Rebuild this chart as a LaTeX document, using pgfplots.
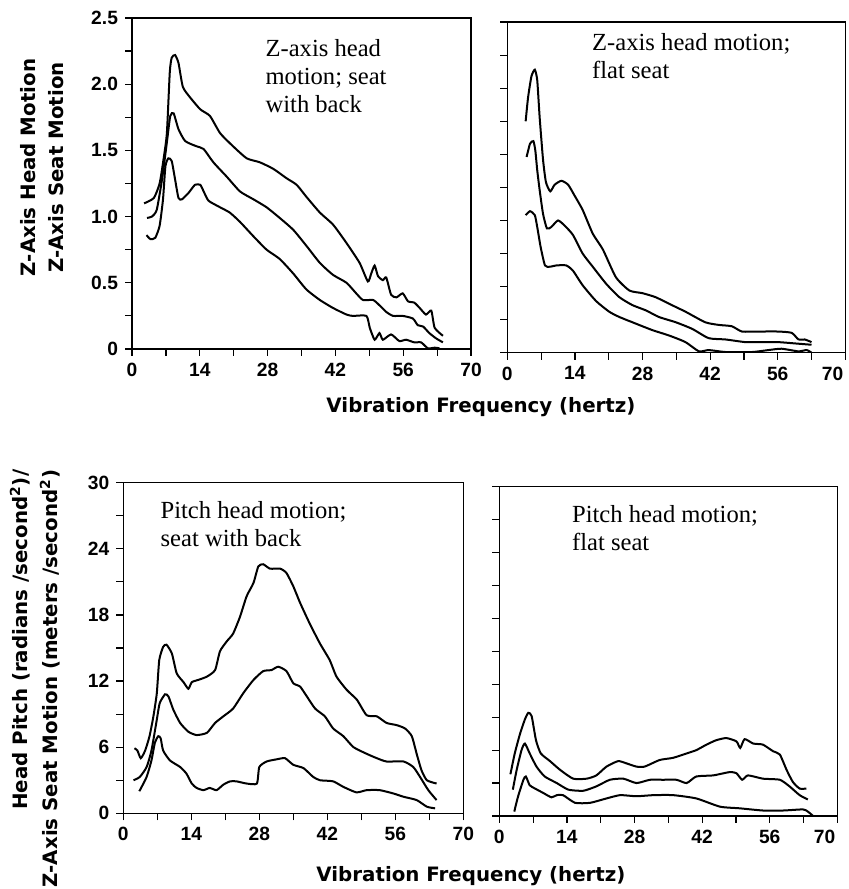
\documentclass[border=0pt]{standalone}
\usepackage{fontspec}
\setmainfont{Liberation Serif}
\newfontfamily\labfont{DejaVu Sans}
\newfontfamily\tickfont{Liberation Sans}
\usepackage{pgfplots}
\pgfplotsset{compat=1.18}
\pgfplotsset{
  panel/.style={
    scale only axis,
    anchor=south west,
    xmin=0, xmax=70,
    xtick={0,14,28,42,56,70},
    minor x tick num=1,
    tick align=outside,
    xtick pos=bottom, ytick pos=left,
    major tick length=3.5pt, minor tick length=3.5pt,
    every tick/.style={black, line width=0.6pt},
    axis line style={line width=0.6pt},
    ticklabel style={font=\tickfont\bfseries\fontsize{9.6}{11}\selectfont},
    /pgf/number format/assume math mode=true,
    clip=true,
  },
  zpanel/.style={panel, ymin=0, ymax=2.5, ytick={0,0.5,1,1.5,2,2.5}, minor y tick num=1},
  ppanel/.style={panel, ymin=0, ymax=30, ytick={0,6,12,18,24,30}, minor y tick num=1},
  curve/.style={black, line width=1pt, smooth, tension=0.35, no marks},
}
\tikzset{note/.style={anchor=north west, inner sep=0pt, align=left, font=\fontsize{12.3}{14}\selectfont}}
\newcommand{\lastlab}{\makebox[0pt][r]{70\kern1pt}}
\begin{document}
\begin{tikzpicture}
\useasboundingbox (0,0) rectangle (424.5pt,444.5pt);

% ---------------- Top left ----------------
\begin{axis}[zpanel, at={(66pt,270pt)}, width=169.5pt, height=165.5pt,
  xticklabels={0,14,28,42,56,70}, yticklabels={0,0.5,1.0,1.5,2.0,2.5}]
\addplot[curve] coordinates {
(2.5,1.10)(4.5,1.14)(5.7,1.25)(6.5,1.43)(7.2,1.63)(7.8,2.09)(8.2,2.20)(8.9,2.22)(9.6,2.16)(10.5,1.98)
(12.0,1.90)(14.1,1.81)(16.1,1.76)(18.2,1.63)(20.9,1.53)(23.7,1.44)(26.4,1.41)(29.2,1.36)(31.9,1.29)
(34.0,1.24)(36.0,1.15)(38.8,1.03)(41.5,0.94)(44.3,0.80)(47.0,0.65)(48.7,0.51)(49.4,0.57)(50.1,0.63)
(50.8,0.55)(51.8,0.52)(52.5,0.54)(53.5,0.41)(54.6,0.39)(55.9,0.42)(57.0,0.36)(58.3,0.35)(59.4,0.31)
(60.7,0.26)(61.8,0.29)(62.5,0.16)(64.2,0.10)};
\addplot[curve] coordinates {
(3.1,0.99)(4.1,1.00)(5.1,1.05)(6.2,1.28)(7.2,1.56)(7.9,1.76)(8.6,1.78)(9.6,1.66)(11.0,1.57)(13.4,1.53)
(14.8,1.51)(16.8,1.41)(19.6,1.30)(22.3,1.19)(25.1,1.13)(27.8,1.07)(30.5,0.99)(33.3,0.90)(36.0,0.78)
(38.8,0.65)(41.5,0.56)(44.3,0.50)(46.3,0.42)(47.7,0.37)(49.8,0.37)(51.1,0.33)(52.5,0.28)(53.9,0.25)
(55.9,0.25)(58.0,0.23)(59.0,0.18)(60.1,0.17)(61.4,0.12)(62.8,0.08)(64.2,0.05)};
\addplot[curve] coordinates {
(3.0,0.86)(3.8,0.83)(4.8,0.84)(5.7,0.93)(6.4,1.13)(6.9,1.38)(7.5,1.44)(8.2,1.42)(8.9,1.28)(9.6,1.14)
(10.3,1.13)(11.7,1.18)(13.0,1.24)(14.1,1.24)(14.8,1.19)(15.8,1.12)(18.2,1.07)(20.2,1.03)(22.3,0.96)
(25.1,0.85)(27.8,0.75)(30.5,0.68)(33.3,0.57)(36.0,0.45)(38.8,0.37)(41.5,0.31)(44.3,0.26)(45.6,0.25)
(48.4,0.25)(49.1,0.16)(50.1,0.07)(51.1,0.12)(51.8,0.07)(53.5,0.11)(55.2,0.06)(56.6,0.07)(58.3,0.05)
(59.7,0.05)(61.1,0.005)(62.5,0.01)(63.5,0.005)};
\node[note] at (axis cs:27.5,2.34) {Z-axis head\\motion; seat\\with back};
\end{axis}

% ---------------- Top right ----------------
\begin{axis}[zpanel, at={(253.65pt,268.15pt)}, width=169pt, height=165.3pt,
  xticklabels={0,14,28,42,56,\lastlab}, yticklabels={}]
\addplot[curve] coordinates {
(3.8,1.75)(4.3,1.93)(5.0,2.09)(5.7,2.14)(6.2,2.06)(6.7,1.78)(7.4,1.46)(8.0,1.29)(8.9,1.22)(9.8,1.27)
(11.2,1.30)(12.6,1.27)(13.9,1.19)(15.6,1.08)(17.7,0.90)(19.8,0.78)(22.5,0.57)(25.3,0.47)(28.0,0.45)
(30.7,0.42)(33.5,0.37)(36.9,0.31)(41.0,0.23)(43.8,0.21)(46.5,0.20)(48.6,0.16)(52.0,0.16)(56.1,0.16)
(58.9,0.15)(60.3,0.10)(61.6,0.10)(63.0,0.08)};
\addplot[curve] coordinates {
(4.0,1.48)(4.7,1.58)(5.4,1.60)(5.8,1.53)(6.2,1.38)(6.7,1.23)(7.4,1.05)(8.2,0.94)(9.1,0.95)(10.5,1.00)
(11.9,0.96)(13.6,0.89)(15.6,0.75)(17.7,0.65)(20.5,0.52)(23.2,0.42)(25.9,0.36)(28.7,0.32)(31.4,0.27)
(34.9,0.23)(38.3,0.18)(41.7,0.11)(45.2,0.10)(49.3,0.08)(52.7,0.08)(56.1,0.08)(59.6,0.07)(63.0,0.06)};
\addplot[curve] coordinates {
(3.8,1.04)(4.7,1.07)(5.7,1.04)(6.2,0.95)(6.9,0.80)(7.8,0.66)(8.8,0.65)(10.2,0.66)(12.2,0.66)(13.6,0.62)
(15.6,0.51)(18.4,0.39)(21.1,0.31)(23.2,0.27)(26.6,0.22)(30.1,0.17)(33.5,0.13)(36.9,0.08)(39.7,0.01)
(41.7,0.02)(45.2,0.005)(50.7,0.005)(54.1,0.02)(56.8,0.03)(60.3,0.01)(62.0,0.02)(63.0,0.0)};
\node[note] at (axis cs:17.5,2.42) {Z-axis head motion;\\flat seat};
\end{axis}

% ---------------- Bottom left ----------------
\begin{axis}[ppanel, at={(61.65pt,37.85pt)}, width=170pt, height=165.3pt,
  xticklabels={0,14,28,42,56,70}, yticklabels={0,6,12,18,24,30}]
\addplot[curve] coordinates {
(2.3,5.9)(2.9,5.7)(3.6,5.0)(4.5,5.7)(5.4,7.0)(6.2,8.8)(6.9,10.9)(7.4,13.9)(8.2,15.1)(8.9,15.3)
(10.0,14.5)(11.0,12.7)(12.4,11.9)(13.4,11.3)(14.1,11.9)(15.4,12.1)(17.2,12.4)(18.9,13.0)(19.9,14.7)
(21.3,15.6)(22.6,16.3)(24.0,17.8)(25.4,19.7)(26.8,20.9)(27.8,22.4)(28.8,22.6)(30.2,22.2)(32.3,22.2)
(33.6,21.8)(35.0,20.6)(36.4,19.1)(38.4,17.2)(40.5,15.4)(42.5,13.9)(43.9,12.4)(46.0,11.2)(48.1,10.3)
(50.1,8.9)(52.2,8.8)(54.2,8.2)(56.3,8.0)(58.0,7.7)(59.4,7.0)(60.4,5.4)(61.4,3.9)(62.5,3.0)(64.5,2.7)};
\addplot[curve] coordinates {
(2.1,3.0)(3.4,3.3)(4.8,4.2)(5.8,5.7)(6.9,8.5)(7.5,10.0)(8.6,10.8)(9.3,10.6)(10.3,9.4)(11.7,8.2)
(13.4,7.4)(15.1,7.1)(17.2,7.3)(18.9,8.2)(20.6,8.8)(22.6,9.5)(24.7,10.9)(26.8,12.1)(28.8,12.9)(30.5,13.0)
(31.9,13.3)(33.6,12.9)(35.0,11.8)(36.4,11.5)(37.8,10.6)(39.5,9.5)(41.5,8.8)(43.2,7.7)(45.3,7.0)
(47.4,6.0)(50.1,5.4)(52.2,5.0)(54.2,4.7)(57.7,4.7)(59.7,4.2)(61.1,3.3)(62.8,2.1)(64.5,1.2)};
\addplot[curve] coordinates {
(3.3,2.0)(4.8,3.3)(5.8,4.8)(6.5,6.4)(7.2,7.0)(7.7,6.8)(8.2,5.7)(9.6,4.8)(11.7,4.2)(13.0,3.6)(14.1,2.7)
(15.1,2.3)(16.5,2.1)(17.8,2.3)(19.2,2.1)(20.6,2.6)(22.0,2.9)(23.3,2.9)(25.4,2.7)(27.5,2.7)(28.0,4.2)
(29.5,4.7)(31.6,4.9)(33.3,5.0)(35.0,4.4)(37.1,4.1)(39.1,3.3)(40.5,3.0)(43.2,2.9)(45.3,2.4)(48.0,1.9)
(50.1,2.1)(52.8,2.1)(55.6,1.8)(57.7,1.5)(60.4,1.2)(62.5,0.6)(64.2,0.45)};
\node[note] at (axis cs:7.6,28.3) {Pitch head motion;\\seat with back};
\end{axis}

% ---------------- Bottom right ----------------
\begin{axis}[ppanel, at={(249.65pt,36.5pt)}, width=169pt, height=164.65pt,
  xticklabels={0,14,28,42,56,\lastlab}, yticklabels={}]
\addplot[curve] coordinates {
(2.3,3.8)(3.2,5.7)(4.3,7.5)(5.3,8.8)(6.0,9.4)(6.7,9.1)(7.6,6.9)(8.6,5.7)(10.5,5.0)(12.6,4.2)(15.3,3.4)
(18.1,3.4)(20.1,3.7)(22.2,4.5)(24.6,5.0)(26.3,4.8)(28.4,4.5)(30.1,4.5)(33.2,5.1)(36.0,5.3)(38.8,5.7)
(40.8,6.0)(42.9,6.5)(44.9,6.9)(47.0,7.1)(49.1,6.8)(49.9,6.2)(50.8,7.0)(52.6,6.6)(54.6,6.5)(56.7,5.9)
(58.1,5.6)(59.5,4.2)(60.8,3.1)(62.2,2.5)(63.6,2.5)};
\addplot[curve] coordinates {
(2.8,2.4)(3.6,4.2)(4.6,6.0)(5.3,6.6)(6.3,5.7)(7.7,4.5)(9.4,3.6)(11.9,3.0)(14.3,2.4)(17.4,2.3)(20.1,2.7)
(22.9,3.3)(25.7,3.4)(28.4,3.0)(31.2,3.3)(33.9,3.3)(36.7,3.3)(38.8,3.0)(40.8,3.6)(44.3,3.7)(47.7,4.0)
(49.1,3.9)(50.3,3.3)(51.5,3.7)(54.6,3.4)(58.1,3.3)(60.1,2.7)(62.2,1.9)(63.9,1.5)};
\addplot[curve] coordinates {
(3.1,0.4)(3.9,1.8)(5.0,3.3)(5.5,3.6)(6.3,2.8)(7.4,2.5)(9.1,2.1)(10.8,1.7)(11.9,1.9)(13.2,1.9)(15.7,1.2)
(18.8,1.2)(22.2,1.6)(25.0,1.9)(28.4,1.8)(31.9,1.9)(36.0,1.9)(40.8,1.6)(45.7,0.85)(49.8,0.7)(54.6,0.5)
(58.8,0.5)(62.9,0.6)(63.9,0.4)(65.0,0.0)};
\node[note] at (axis cs:15.0,28.3) {Pitch head motion;\\flat seat};
\end{axis}

% ---------------- shared labels ----------------
\node[anchor=base, inner sep=0pt, font=\labfont\bfseries\fontsize{9.9}{12}\selectfont]
  at (240.5pt,238pt) {Vibration Frequency (hertz)};
\node[anchor=base, inner sep=0pt, font=\labfont\bfseries\fontsize{9.9}{12}\selectfont]
  at (235.5pt,3.5pt) {Vibration Frequency (hertz)};
\node[rotate=90, anchor=center, inner sep=0pt, align=center,
  font=\labfont\bfseries\fontsize{9.9}{14}\selectfont]
  at (21.25pt,360.75pt) {Z-Axis Head Motion\\Z-Axis Seat Motion};
\node[rotate=90, anchor=center, inner sep=0pt, align=right,
  font=\labfont\bfseries\fontsize{9.9}{15}\selectfont]
  at (17.5pt,105.25pt) {Head Pitch (radians /second\textsuperscript{2})/\\Z-Axis Seat Motion (meters /second\textsuperscript{2})};
\end{tikzpicture}
\end{document}
